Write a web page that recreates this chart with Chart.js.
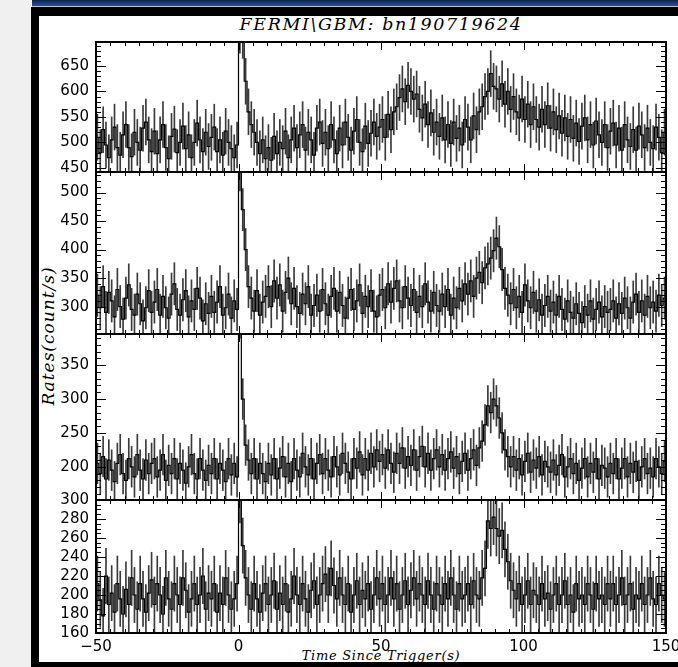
<!DOCTYPE html>
<html>
<head>
<meta charset="utf-8">
<script src="https://cdn.jsdelivr.net/npm/chart.js@4.4.0/dist/chart.umd.min.js"></script>
<style>
  body { margin: 0; width: 678px; height: 667px; position: relative; overflow: hidden; background: #fff; }
  #leftGray { position: absolute; left: 0; top: 0; width: 31px; height: 667px; background: #f0f0f0; }
  #blueBar { position: absolute; left: 32px; top: 0; width: 646px; height: 6px; background: linear-gradient(#0b2350, #2c5391); }
  #blueLine { position: absolute; left: 32px; top: 6px; width: 646px; height: 1px; background: #b8c4d8; }
  #frame { position: absolute; left: 31px; top: 7px; width: 647px; height: 660px; box-sizing: border-box;
           border-left: 8px solid #000; border-top: 9px solid #000; border-bottom: 5px solid #000; }
  canvas { position: absolute; }
  .lbl { position: absolute; font-family: "DejaVu Serif", serif; font-style: italic; color: #000; white-space: nowrap; }
  #title { left: 96px; width: 570px; top: 14px; text-align: center; font-size: 17.5px; letter-spacing: 1.6px; }
  #ytitle { left: 48px; top: 336px; font-size: 17px; letter-spacing: 1px; transform: translate(-50%, -50%) rotate(-90deg); }
  #xtitle { left: 381px; top: 655px; font-size: 13px; letter-spacing: 0.7px; transform: translate(-50%, -50%); }
</style>
</head>
<body>
<div id="leftGray"></div>
<div id="blueBar"></div>
<div id="blueLine"></div>
<div id="frame"></div>
<div class="lbl" id="title">FERMI\GBM: bn190719624</div>
<div class="lbl" id="ytitle">Rates(count/s)</div>
<div class="lbl" id="xtitle">Time Since Trigger(s)</div>
<canvas id="p1"></canvas>
<canvas id="p2"></canvas>
<canvas id="p3"></canvas>
<canvas id="p4"></canvas>
<script>
// 1-s bins starting at t = -50 s
const timeStart = -50;
const binWidth = 1;

// panel 1 rates (count/s)
const rates1 = [
  510, 480, 525, 495, 470, 505, 530, 490, 475, 515, 535, 490, 472, 520, 500, 485, 528, 540, 505, 482,
  522, 478, 505, 535, 490, 468, 512, 526, 480, 500, 532, 488, 515, 470, 500, 538, 505, 482, 520, 492,
  510, 530, 482, 505, 475, 522, 500, 488, 470, 495, 720, 710, 620, 560, 535, 520, 500, 478, 505, 468,
  490, 465, 512, 478, 500, 488, 522, 470, 505, 528, 490, 515, 535, 485, 520, 505, 475, 528, 540, 498,
  520, 488, 535, 505, 478, 528, 495, 540, 510, 485, 522, 545, 500, 482, 532, 498, 518, 540, 512, 530,
  545, 510, 555, 525, 560, 570, 588, 605, 580, 612, 600, 585, 595, 565, 548, 575, 535, 558, 520, 540,
  512, 548, 505, 535, 498, 540, 508, 528, 495, 545, 530, 505, 552, 525, 560, 570, 590, 600, 635, 610,
  605, 585, 615, 575, 600, 565, 590, 560, 548, 585, 545, 575, 535, 570, 545, 530, 565, 535, 572, 528,
  560, 525, 552, 518, 548, 512, 545, 508, 538, 502, 532, 548, 505, 535, 495, 542, 515, 500, 535, 490,
  522, 538, 495, 528, 485, 535, 505, 492, 525, 485, 532, 515, 490, 528, 500, 488, 530, 510, 480, 520
];
// panel 2
const rates2 = [
  320, 298, 335, 290, 325, 310, 282, 330, 300, 278, 315, 338, 295, 285, 322, 305, 275, 298, 328, 290,
  308, 330, 285, 318, 298, 280, 322, 340, 295, 285, 312, 328, 282, 310, 295, 332, 315, 275, 305, 288,
  318, 290, 308, 335, 285, 298, 322, 280, 310, 295, 540, 470, 400, 335, 315, 292, 328, 285, 308, 318,
  335, 300, 345, 315, 338, 292, 325, 350, 305, 332, 300, 288, 322, 305, 335, 285, 302, 320, 292, 330,
  305, 285, 318, 332, 292, 325, 302, 280, 315, 330, 295, 310, 338, 288, 318, 300, 328, 292, 282, 320,
  330, 298, 340, 308, 332, 345, 310, 298, 335, 315, 302, 330, 290, 318, 300, 340, 308, 292, 325, 302,
  292, 322, 300, 330, 285, 315, 298, 332, 310, 340, 322, 345, 318, 350, 360, 342, 368, 375, 385, 398,
  420, 405, 365, 332, 320, 305, 330, 298, 318, 290, 338, 310, 298, 325, 292, 312, 285, 302, 318, 292,
  308, 285, 318, 295, 278, 310, 290, 280, 305, 288, 272, 300, 285, 310, 278, 295, 308, 282, 300, 290,
  295, 310, 280, 305, 288, 315, 298, 280, 308, 322, 290, 310, 285, 318, 298, 308, 292, 320, 302, 315
];
// panel 3
const rates3 = [
  205, 190, 215, 182, 210, 195, 178, 205, 218, 190, 180, 212, 200, 185, 218, 195, 182, 210, 190, 205,
  212, 185, 195, 218, 180, 202, 190, 212, 182, 205, 195, 176, 200, 218, 190, 182, 212, 195, 180, 202,
  190, 212, 182, 205, 195, 178, 212, 188, 205, 185, 420, 300, 232, 210, 190, 212, 182, 205, 190, 178,
  205, 188, 212, 182, 198, 215, 185, 205, 178, 212, 195, 185, 220, 200, 188, 212, 182, 205, 218, 190,
  212, 195, 185, 215, 200, 188, 220, 205, 192, 182, 212, 198, 222, 188, 212, 195, 220, 200, 225, 208,
  218, 198, 225, 205, 192, 220, 205, 228, 198, 215, 202, 225, 195, 215, 230, 200, 220, 195, 212, 225,
  200, 218, 195, 212, 222, 198, 215, 190, 208, 220, 195, 212, 225, 202, 228, 238, 262, 290, 280, 300,
  290, 272, 250, 225, 215, 200, 215, 195, 212, 188, 208, 220, 192, 210, 198, 215, 188, 208, 200, 192,
  210, 188, 202, 218, 185, 200, 212, 190, 205, 180, 198, 212, 185, 205, 192, 212, 182, 202, 198, 185,
  205, 190, 212, 182, 198, 212, 185, 205, 192, 208, 180, 200, 212, 190, 198, 185, 212, 200, 190, 208
];
// panel 4
const rates4 = [
  212, 195, 178, 220, 190, 202, 182, 212, 196, 180, 206, 190, 218, 200, 185, 212, 196, 182, 202, 216,
  190, 212, 200, 180, 218, 196, 185, 212, 200, 190, 218, 205, 182, 196, 212, 190, 200, 220, 185, 202,
  196, 212, 182, 202, 190, 218, 200, 185, 196, 212, 305, 252, 218, 200, 185, 212, 196, 182, 202, 212,
  190, 200, 215, 185, 202, 190, 212, 182, 196, 220, 200, 190, 212, 196, 182, 205, 215, 190, 200, 212,
  222, 200, 228, 210, 196, 218, 200, 190, 212, 182, 200, 215, 190, 205, 196, 212, 185, 200, 218, 196,
  212, 190, 200, 218, 196, 212, 185, 200, 215, 190, 205, 218, 196, 212, 200, 190, 215, 200, 185, 212,
  200, 190, 212, 196, 218, 200, 185, 212, 196, 200, 212, 190, 215, 200, 196, 218, 228, 278, 270, 282,
  270, 262, 268, 248, 235, 215, 205, 196, 212, 190, 200, 215, 190, 205, 200, 190, 212, 196, 202, 185,
  200, 212, 190, 200, 215, 190, 200, 182, 212, 196, 200, 190, 212, 200, 185, 212, 196, 200, 190, 212,
  196, 212, 190, 200, 218, 190, 200, 212, 185, 200, 196, 212, 190, 200, 218, 196, 190, 212, 200, 196
];

// error bar half widths per panel (count/s)
const errHalf = [45, 37, 30, 29];

// axis ranges and ticks
const yMin = [442, 252, 151, 160];
const yMax = [697, 536, 396, 300];
const yStep = [50, 50, 50, 20];
const yMinor = [10, 10, 10, 5];
const xMin = -50, xMax = 150, xStep = 50, xMinor = 5;

const allRates = [rates1, rates2, rates3, rates4];

// panel placement on the page
const panelTop = [42, 172, 334, 500];
const panelBottom = [172, 334, 500, 633];
const plotLeft = 96, plotRight = 666, canvasLeft = 39;

Chart.defaults.font.family = "'DejaVu Sans', sans-serif";
Chart.defaults.font.size = 15;
Chart.defaults.color = '#000';

const idlAxes = {
  id: 'idlAxes',
  afterDatasetsDraw(chart, args, opts) {
    const { ctx, chartArea: a, scales: { x, y } } = chart;
    ctx.save();
    ctx.strokeStyle = '#000';
    ctx.lineWidth = 1;
    ctx.beginPath();
    // y ticks on left and right
    for (let v = Math.ceil(y.min / opts.minor) * opts.minor; v <= y.max; v += opts.minor) {
      const py = Math.round(y.getPixelForValue(v)) + 0.5;
      const len = v % opts.major === 0 ? 10 : 5;
      ctx.moveTo(a.left, py); ctx.lineTo(a.left + len, py);
      ctx.moveTo(a.right, py); ctx.lineTo(a.right - len, py);
    }
    // x ticks on top and bottom
    for (let v = xMin; v <= xMax; v += xMinor) {
      const px = Math.round(x.getPixelForValue(v)) + 0.5;
      const len = v % xStep === 0 ? 8 : 4;
      ctx.moveTo(px, a.top); ctx.lineTo(px, a.top + len);
      ctx.moveTo(px, a.bottom); ctx.lineTo(px, a.bottom - len);
    }
    ctx.stroke();
    ctx.lineWidth = 2;
    ctx.strokeRect(a.left, a.top, a.right - a.left, a.bottom - a.top);
    ctx.restore();
  }
};

function makePanel(i) {
  const last = i === 3;
  const rates = allRates[i];
  const cv = document.getElementById('p' + (i + 1));
  const h = panelBottom[i] - panelTop[i];
  const xAxisH = 30;
  cv.width = 678 - canvasLeft;
  cv.height = h + 10 + (last ? xAxisH : 10);
  cv.style.left = canvasLeft + 'px';
  cv.style.top = (panelTop[i] - 10) + 'px';

  const bars = rates.map((v, k) => ({ x: timeStart + (k + 0.5) * binWidth, y: [v - errHalf[i], v + errHalf[i]] }));
  const line = rates.map((v, k) => ({ x: timeStart + (k + 0.5) * binWidth, y: v }));

  new Chart(cv, {
    type: 'bar',
    data: {
      datasets: [
        { type: 'line', data: line, stepped: 'middle', borderColor: '#000', borderWidth: 1.2, pointRadius: 0, order: 0 },
        { type: 'bar', data: bars, backgroundColor: '#3a3a3a', barThickness: 1, grouped: false, order: 1 }
      ]
    },
    options: {
      responsive: false,
      animation: false,
      events: [],
      layout: { padding: { top: 10, bottom: last ? 0 : 10, left: 0, right: 678 - plotRight } },
      plugins: { legend: { display: false }, tooltip: { enabled: false },
                 idlAxes: { minor: yMinor[i], major: yStep[i] } },
      scales: {
        x: {
          type: 'linear', min: xMin, max: xMax, display: last, offset: false,
          grid: { display: false, drawTicks: false, offset: false },
          border: { display: false },
          ticks: { stepSize: xStep, padding: 5, maxRotation: 0, autoSkip: false, includeBounds: false,
                   callback: v => (v < 0 ? '\u2212' + Math.abs(v) : String(v)) },
          afterFit(s) { if (last) { s.height = xAxisH; s.paddingLeft = 0; s.paddingRight = 0; } }
        },
        y: {
          min: yMin[i], max: yMax[i],
          grid: { display: false, drawTicks: false },
          border: { display: false },
          ticks: { stepSize: yStep[i], padding: 7, autoSkip: false, includeBounds: false },
          afterFit(s) { s.width = plotLeft - canvasLeft; s.paddingTop = 0; s.paddingBottom = 0; }
        }
      }
    },
    plugins: [idlAxes]
  });
}

for (let i = 0; i < 4; i++) makePanel(i);
</script>
</body>
</html>
